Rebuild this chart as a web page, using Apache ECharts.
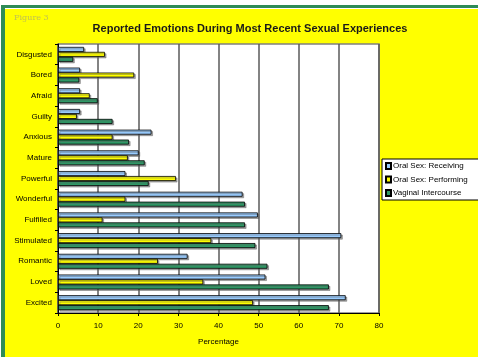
<!DOCTYPE html>
<html>
<head>
<meta charset="utf-8">
<script src="https://cdn.jsdelivr.net/npm/echarts@6/dist/echarts.min.js"></script>
<style>
  html, body { margin: 0; padding: 0; background: #ffffff; }
  #frame { position: absolute; left: 1px; top: 5px; width: 477px; height: 352px; background: #2e8b57; }
  #inner { position: absolute; left: 4px; top: 3px; width: 473px; height: 349px; background: #ffffff; }
  #chart { position: absolute; left: 5px; top: 9px; width: 473px; height: 348px; }
  #fig { position: absolute; left: 14px; top: 13px; font: 8px "DejaVu Serif", serif; color: #c0c050; z-index: 2; }
</style>
</head>
<body>
<div id="frame"><div id="inner"></div></div>
<div id="chart"></div>
<div id="fig">Figure 3</div>
<script>
// Emotion categories, listed top to bottom
const categories = ['Disgusted', 'Bored', 'Afraid', 'Guilty', 'Anxious', 'Mature', 'Powerful',
  'Wonderful', 'Fulfilled', 'Stimulated', 'Romantic', 'Loved', 'Excited'];

// Percentage reporting each emotion
const oralReceiving = [6.5, 5.5, 5.5, 5.5, 23.3, 20.1, 16.8, 46.0, 49.8, 70.6, 32.3, 51.7, 71.7];
const oralPerforming = [11.7, 19.0, 7.9, 4.7, 13.6, 17.4, 29.4, 16.8, 11.1, 38.2, 24.9, 36.2, 48.6];
const vaginal = [3.8, 5.3, 9.9, 13.6, 17.7, 21.6, 22.6, 46.6, 46.6, 49.2, 52.2, 67.5, 67.5];

const xTicks = [0, 10, 20, 30, 40, 50, 60, 70, 80];

const seriesNames = ['Oral Sex: Receiving', 'Oral Sex: Performing', 'Vaginal Intercourse'];
const seriesColors = ['#99ccff', '#ffff00', '#2e9966'];
const seriesData = [oralReceiving, oralPerforming, vaginal];

const chart = echarts.init(document.getElementById('chart'));
const font = '"Liberation Sans", Arial, sans-serif';

chart.setOption({
  backgroundColor: '#ffff00',
  animation: false,
  title: {
    text: 'Reported Emotions During Most Recent Sexual Experiences',
    left: 240, top: 9, textAlign: 'center',
    textStyle: { fontFamily: font, fontSize: 11, fontWeight: 'bold', color: '#1a1a1a' }
  },
  legend: {
    orient: 'vertical',
    left: 377, top: 150,
    data: seriesNames,
    backgroundColor: '#ffffff',
    borderColor: '#000000', borderWidth: 1,
    padding: [3, 30, 3, 3],
    itemWidth: 5, itemHeight: 6, itemGap: 5.5,
    icon: 'rect',
    textStyle: { fontFamily: font, fontSize: 8, color: '#000000', padding: [0, 0, 0, -3] }
  },
  grid: {
    left: 53, right: 99, top: 35, bottom: 44,
    show: true, backgroundColor: '#ffffff',
    borderColor: '#808080', borderWidth: 1.5
  },
  xAxis: {
    type: 'value', min: 0, max: 80, interval: 10,
    name: 'Percentage', nameLocation: 'middle', nameGap: 25,
    nameTextStyle: { fontFamily: font, fontSize: 8, color: '#000000' },
    axisLine: { show: true, onZero: false, lineStyle: { color: '#000000', width: 1 } },
    axisTick: { show: true, length: 3, lineStyle: { color: '#000000' } },
    axisLabel: { fontFamily: font, fontSize: 8, color: '#000000', margin: 9,
      formatter: v => xTicks.includes(v) ? String(v) : '' },
    splitLine: { show: true, lineStyle: { color: '#5a5a5a', width: 1.5 } }
  },
  yAxis: {
    type: 'category', data: categories, inverse: true,
    axisLine: { show: true, lineStyle: { color: '#000000', width: 1 } },
    axisTick: { show: true, inside: false, length: 3, alignWithLabel: false, lineStyle: { color: '#000000' } },
    axisLabel: { fontFamily: font, fontSize: 8, color: '#000000', margin: 6 },
    splitLine: { show: false }
  },
  series: seriesNames.map((name, i) => ({
    name, type: 'bar',
    data: seriesData[i],
    barGap: '0%', barCategoryGap: '28%',
    itemStyle: {
      color: seriesColors[i],
      borderColor: '#000000', borderWidth: 0.8,
      shadowColor: 'rgba(90,90,90,0.55)', shadowOffsetX: 1.5, shadowOffsetY: 1.5, shadowBlur: 0
    }
  }))
});
</script>
</body>
</html>
